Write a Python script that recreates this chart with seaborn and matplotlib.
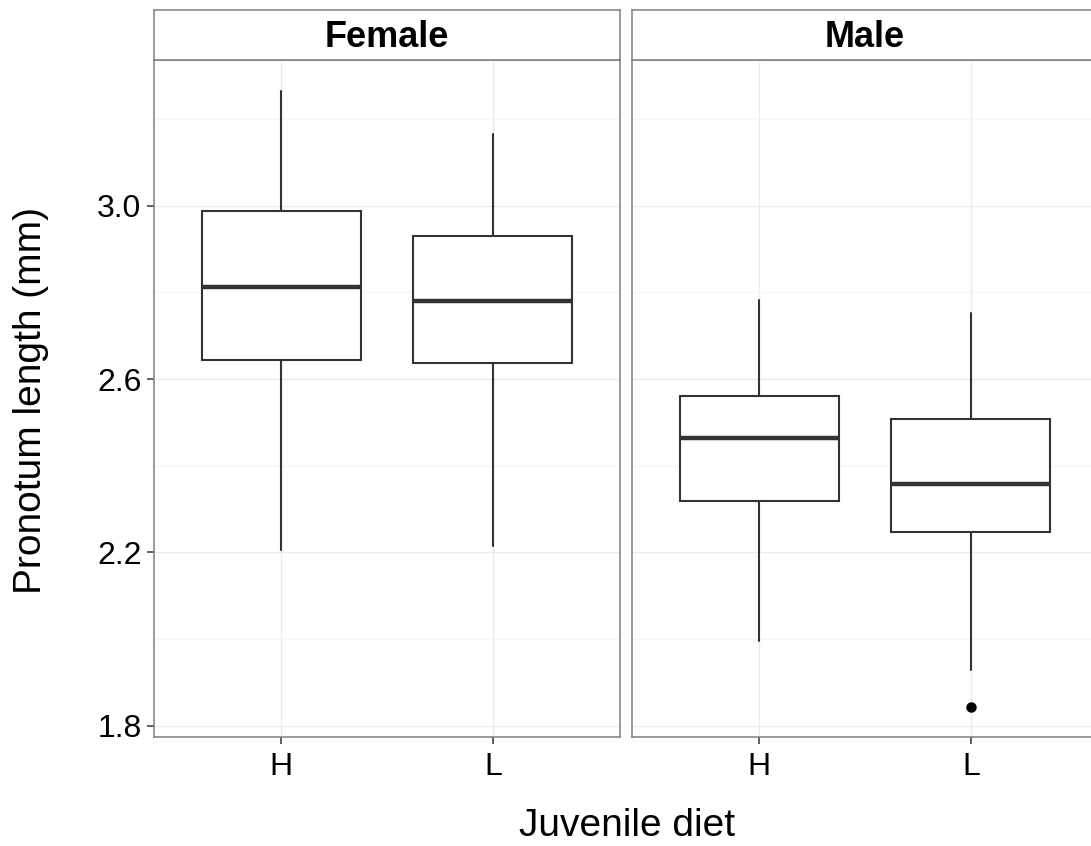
import matplotlib
matplotlib.use("Agg")
import matplotlib.pyplot as plt
import seaborn as sns

# ---- data ----
sexes = ["Female", "Male"]
diets = ["H", "L"]
# five-number summaries: lower whisker, Q1, median, Q3, upper whisker
female_lo = [2.205, 2.216]
female_q1 = [2.643, 2.638]
female_med = [2.813, 2.781]
female_q3 = [2.988, 2.929]
female_hi = [3.263, 3.166]
male_lo = [1.997, 1.929]
male_q1 = [2.318, 2.248]
male_med = [2.465, 2.359]
male_q3 = [2.560, 2.507]
male_hi = [2.783, 2.753]
male_outliers = [[], [1.844]]
female_outliers = [[], []]

yticks = [1.8, 2.2, 2.6, 3.0]
yminor = [2.0, 2.4, 2.8, 3.2]

sns.set_theme(style="white")
plt.rcParams['font.family'] = ['Liberation Sans', 'DejaVu Sans']

W, H = 1091, 846
fig = plt.figure(figsize=(W / 100, H / 100), dpi=100)

def fx(px):
    return px / W

def fy(py):
    return 1 - py / H

panel_left = [154, 632]
panel_w = 466
top_px, bot_px = 60, 737
strip_top = 10

summaries = {
    "Female": (female_lo, female_q1, female_med, female_q3, female_hi, female_outliers),
    "Male": (male_lo, male_q1, male_med, male_q3, male_hi, male_outliers),
}

edge = "#333333"
grid_major = "#ebebeb"
grid_minor = "#f5f5f5"
spine_c = "#7f7f7f"

axes = []
for i, sex in enumerate(sexes):
    ax = fig.add_axes([fx(panel_left[i]), fy(bot_px), fx(panel_w), (bot_px - top_px) / H])
    axes.append(ax)
    lo, q1, med, q3, hi, outl = summaries[sex]
    stats = []
    for j, d in enumerate(diets):
        stats.append(dict(whislo=lo[j], q1=q1[j], med=med[j], q3=q3[j],
                          whishi=hi[j], fliers=outl[j], label=d))
    ax.bxp(stats, positions=[1, 2], widths=0.75, showcaps=False,
           patch_artist=True,
           boxprops=dict(facecolor="white", edgecolor=edge, linewidth=1.5),
           whiskerprops=dict(color=edge, linewidth=1.5),
           medianprops=dict(color=edge, linewidth=3.2, solid_capstyle="butt"),
           flierprops=dict(marker="o", markerfacecolor="black",
                           markeredgecolor="black", markersize=6.5),
           zorder=3)
    ax.set_xlim(0.4, 2.6)
    ax.set_ylim(1.7746, 3.3355)
    ax.set_yticks(yticks)
    ax.set_yticks(yminor, minor=True)
    ax.set_xticks([1, 2])
    ax.set_xticklabels(diets)
    ax.grid(True, which="major", color=grid_major, linewidth=1.0, zorder=0)
    ax.grid(True, which="minor", axis="y", color=grid_minor, linewidth=1.0, zorder=0)
    ax.set_axisbelow(True)
    for s in ax.spines.values():
        s.set_visible(True)
        s.set_color(spine_c)
        s.set_linewidth(1.1)
    ax.tick_params(axis="both", which="major", length=5, width=1.1, color="#333333",
                   labelsize=23, labelcolor="black", pad=4, direction="out")
    ax.tick_params(axis="x", which="major", pad=6)
    ax.tick_params(axis="y", which="minor", length=0)
    ax.xaxis.set_ticks_position("bottom")
    if i == 0:
        ax.set_yticklabels([f"{t:.1f}" for t in yticks])
        ax.yaxis.set_ticks_position("left")
    else:
        ax.tick_params(axis="y", which="both", left=False, labelleft=False)

    # strip
    sax = fig.add_axes([fx(panel_left[i]), fy(top_px), fx(panel_w), (top_px - strip_top) / H])
    sax.set_xticks([])
    sax.set_yticks([])
    sax.set_facecolor("white")
    for s in sax.spines.values():
        s.set_visible(True)
        s.set_color(spine_c)
        s.set_linewidth(1.1)
    sax.text(0.5, 0.45, sex, ha="center", va="center", fontsize=26,
             fontweight="bold", color="black", transform=sax.transAxes)

fig.text(fx(31), fy(400), "Pronotum length (mm)", rotation=90, ha="center",
         va="center", fontsize=28, color="black")
fig.text(fx(627), fy(826), "Juvenile diet", ha="center", va="center",
         fontsize=28, color="black")

fig.savefig("out.png", dpi=100, facecolor="white")
